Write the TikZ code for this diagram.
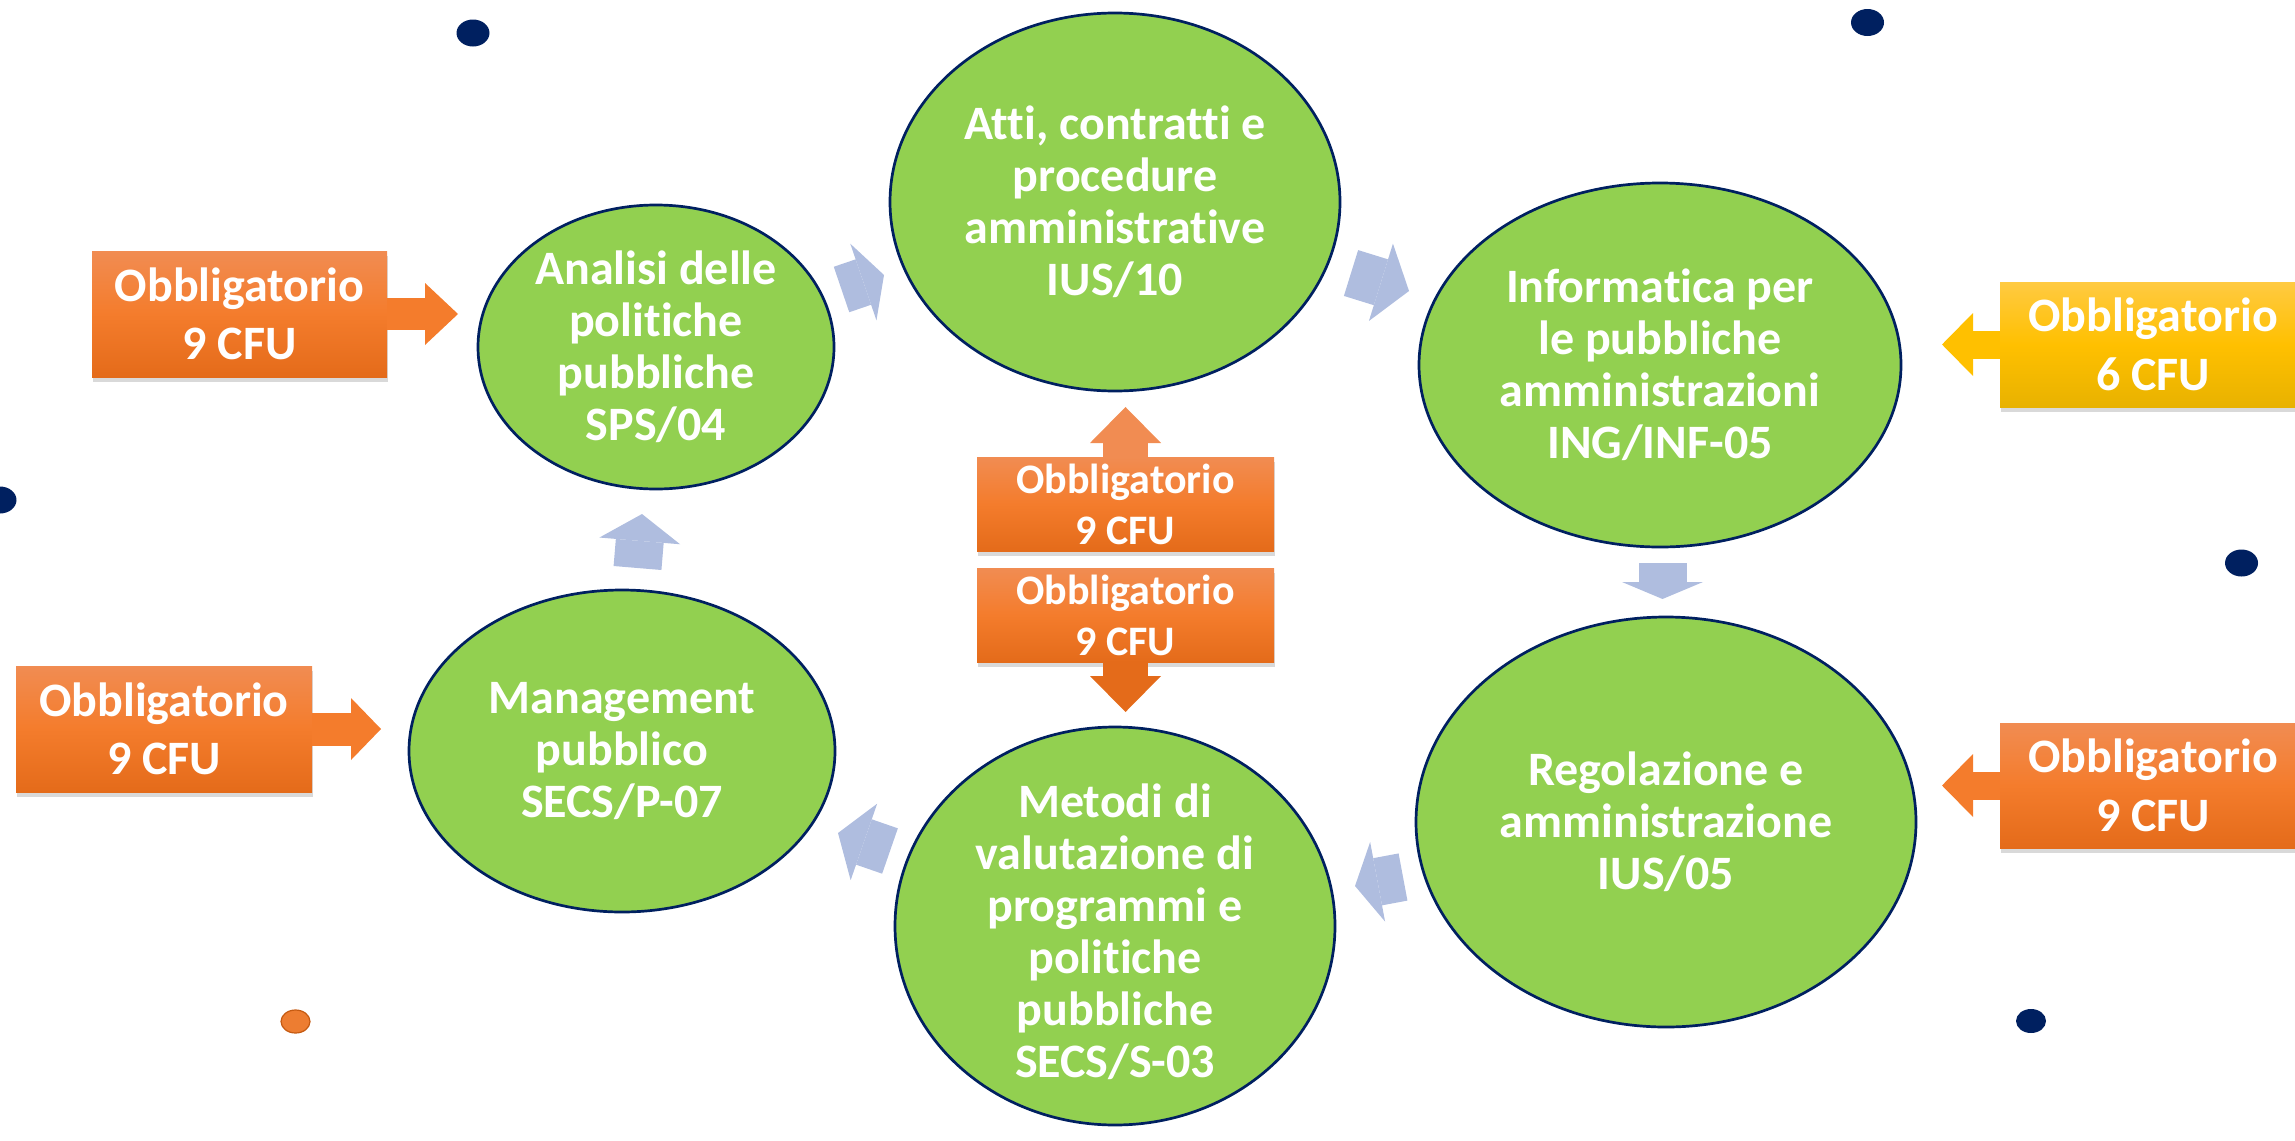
\documentclass[tikz,border=0pt]{standalone}
\usepackage{fontspec}
\setmainfont{Carlito}[Ligatures={NoCommon,NoRare}]
\usetikzlibrary{arrows.meta,shapes.geometric,shadows}
\definecolor{egreen}{HTML}{92D050}
\definecolor{enavy}{HTML}{002060}
\definecolor{ablue}{RGB}{175,189,223}
\definecolor{orTop}{RGB}{241,140,82}
\definecolor{orMid}{RGB}{244,124,44}
\definecolor{orBot}{RGB}{228,107,26}
\definecolor{yeTop}{RGB}{255,202,66}
\definecolor{yeMid}{RGB}{255,192,0}
\definecolor{yeBot}{RGB}{232,178,0}
\definecolor{dotor}{RGB}{237,125,49}
\definecolor{dotorb}{RGB}{197,90,17}
\begin{document}
\begin{tikzpicture}[x=0.5pt,y=-0.5pt,
  course/.style={ellipse, fill=egreen, draw=enavy, line width=1.35pt, inner sep=0pt, outer sep=0pt},
  coursetext/.style={text=white, align=center, inner sep=0pt, font=\fontsize{24}{26}\selectfont\bfseries},
  callout/.style={text=white, align=center, inner sep=0pt, outer sep=0pt,
     font=\fontsize{24}{29.3}\selectfont\bfseries,
     drop shadow={shadow xshift=0.6pt, shadow yshift=-2.5pt, opacity=0.3}},
  orangebox/.style={callout, top color=orTop, bottom color=orBot, middle color=orMid},
  yellowbox/.style={callout, top color=yeTop, bottom color=yeBot, middle color=yeMid},
  smallbox/.style={font=\fontsize{21}{25.5}\selectfont\bfseries},
  flow/.style={draw=ablue, line width=24pt, -{Triangle[length=#1, width=40.5pt, line width=0pt]}},
  callarrow/.style n args={4}{draw=#1, line width=#2, -{Triangle[length=#3, width=#4, line width=0pt]}},
  navydot/.style={fill=enavy}
]
\useasboundingbox (0,0) rectangle (2295,1140);

% course ellipses
\node[course, minimum width=178pt, minimum height=142pt] (analisi) at (656,347) {};
\node[course, minimum width=225pt, minimum height=189pt] (atti) at (1115,202) {};
\node[course, minimum width=241pt, minimum height=182pt] (info) at (1660,365) {};
\node[course, minimum width=250pt, minimum height=205pt] (regol) at (1666,822) {};
\node[course, minimum width=220pt, minimum height=199pt] (metodi) at (1115,926) {};
\node[course, minimum width=213pt, minimum height=161pt] (manag) at (622,751) {};

\node[coursetext] (analisi-t) at (analisi) {Analisi delle\\politiche\\pubbliche\\SPS/04};
\node[coursetext] (atti-t) at (atti) {Atti, contratti e\\procedure\\amministrative\\IUS/10};
\node[coursetext] (info-t) at (info) {Informatica per\\le pubbliche\\amministrazioni\\ING/INF-05};
\node[coursetext] (regol-t) at (regol) {Regolazione e\\amministrazione\\IUS/05};
\node[coursetext] (metodi-t) at ([yshift=-3pt]metodi.center) {Metodi di\\valutazione di\\programmi e\\politiche\\pubbliche\\SECS/S-03};
\node[coursetext] (manag-t) at (manag) {Management\\pubblico\\SECS/P-07};

% flow arrows between courses
\coordinate (f1a) at (841.5,289.5); \coordinate (f1b) at (884,275);
\coordinate (f2a) at (1351,273);    \coordinate (f2b) at (1409,291);
\coordinate (f3a) at (1662.5,563);  \coordinate (f3b) at (1662.5,599);
\coordinate (f4a) at (1403,877);    \coordinate (f4b) at (1355,886);
\coordinate (f5a) at (890,851);     \coordinate (f5b) at (838,833);
\coordinate (f6a) at (637.5,568);   \coordinate (f6b) at (642,514);
\draw[flow=10.9pt] (f1a) -- (f1b);
\draw[flow=14.7pt] (f2a) -- (f2b);
\draw[flow=8.5pt]  (f3a) -- (f3b);
\draw[flow=11.5pt] (f4a) -- (f4b);
\draw[flow=13.7pt] (f5a) -- (f5b);
\draw[flow=13.5pt] (f6a) -- (f6b);

% callout boxes
\node[orangebox, minimum width=147.5pt, minimum height=63pt] (b1) at (239.5,314) {Obbligatorio\\9 CFU};
\node[orangebox, minimum width=148pt, minimum height=63pt] (b2) at (164,729) {Obbligatorio\\9 CFU};
\node[yellowbox, minimum width=153pt, minimum height=62.5pt] (b3) at (2153,344.5) {Obbligatorio\\6 CFU};
\node[orangebox, minimum width=153pt, minimum height=62.5pt] (b4) at (2153,785.5) {Obbligatorio\\9 CFU};
\node[orangebox, smallbox, minimum width=148.5pt, minimum height=47pt] (b5) at (1125.5,504) {Obbligatorio\\9 CFU};
\node[orangebox, smallbox, minimum width=148.5pt, minimum height=47pt] (b6) at (1125.5,615) {Obbligatorio\\9 CFU};

\coordinate (c1) at (458,314);
\coordinate (c2) at (381,729);
\coordinate (c3) at (1942,344.5);
\coordinate (c4) at (1942,785.5);
\coordinate (c5) at (1125.5,407);
\coordinate (c6) at (1125.5,712);
\draw[callarrow={orMid}{16pt}{16.5pt}{31pt}] (b1.east) -- (c1);
\draw[callarrow={orMid}{16.5pt}{15pt}{31pt}] (b2.east) -- (c2);
\draw[callarrow={yeMid}{14pt}{15.5pt}{31.5pt}] (b3.west) -- (c3);
\draw[callarrow={orMid}{14pt}{15.5pt}{31.5pt}] (b4.west) -- (c4);
\draw[callarrow={orTop}{22.5pt}{18pt}{35.5pt}] (b5.north) -- (c5);
\draw[callarrow={orBot}{22.5pt}{18pt}{35.5pt}] (b6.south) -- (c6);

% decorative dots
\fill[navydot] (473,33) ellipse [x radius=8.25pt, y radius=6.75pt];
\fill[navydot] (0,500) ellipse [x radius=8.25pt, y radius=6.75pt];
\fill[navydot] (1867.5,22.5) ellipse [x radius=8.25pt, y radius=6.75pt];
\fill[navydot] (2241.5,563) ellipse [x radius=8.25pt, y radius=6.75pt];
\fill[navydot] (2031,1021) ellipse [x radius=7.5pt, y radius=6pt];
\filldraw[fill=dotor, draw=dotorb, line width=0.6pt] (295.5,1021.5) ellipse [x radius=7.25pt, y radius=5.75pt];
\end{tikzpicture}
\end{document}
